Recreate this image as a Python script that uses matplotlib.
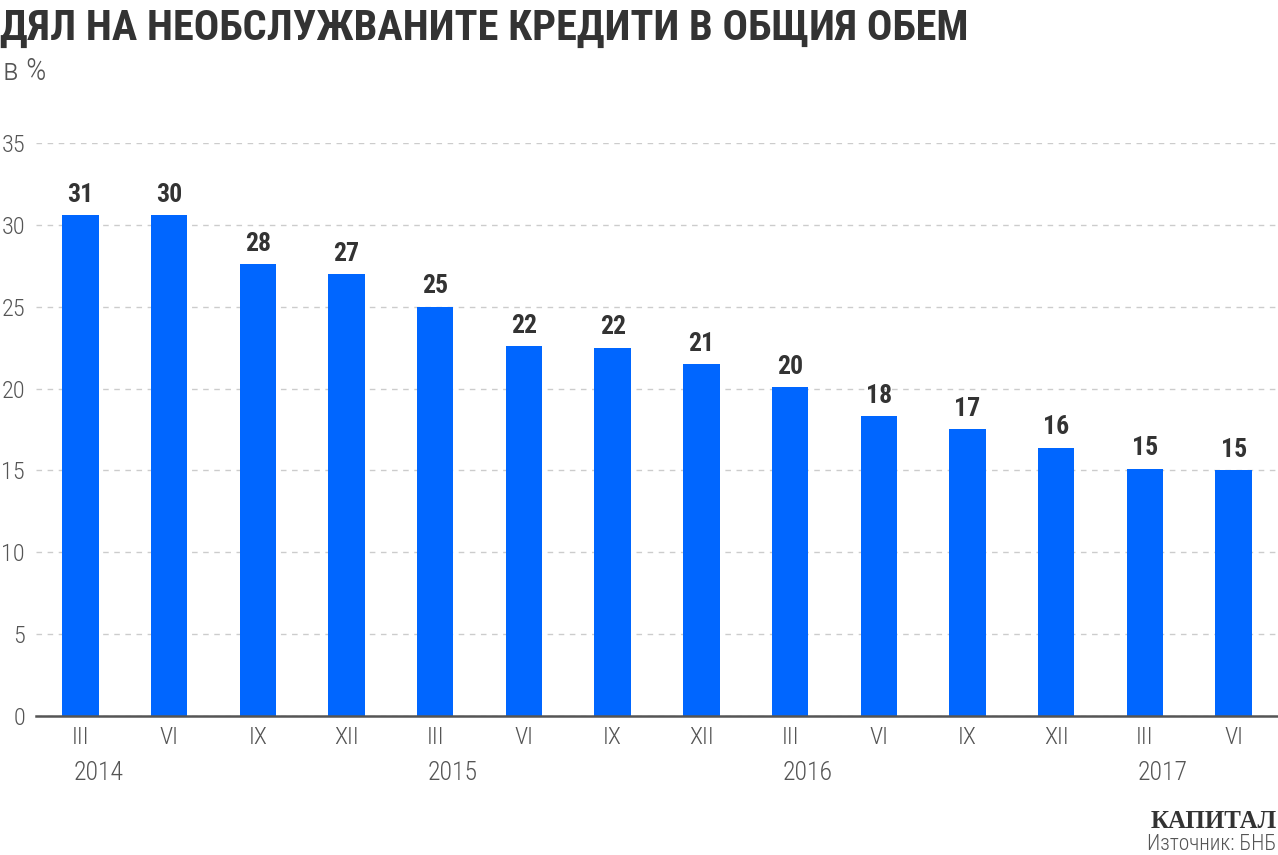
import matplotlib
matplotlib.use("Agg")
import matplotlib.pyplot as plt
from matplotlib import font_manager
from matplotlib.font_manager import FontProperties
import os

months = ["III", "VI", "IX", "XII", "III", "VI", "IX", "XII", "III", "VI", "IX", "XII", "III", "VI"]
years = ["2014", "2015", "2016", "2017"]
year_positions = [0, 4, 8, 12]
values = [30.6, 30.6, 27.6, 27.0, 25.0, 22.6, 22.5, 21.5, 20.1, 18.3, 17.5, 16.4, 15.1, 15.0]
value_labels = ["31", "30", "28", "27", "25", "22", "22", "21", "20", "18", "17", "16", "15", "15"]

files = [f.fname for f in font_manager.fontManager.ttflist]
def find(cands):
    for c in cands:
        for f in files:
            if os.path.basename(f).lower() == c.lower():
                return f
    return None

reg_file = find(["RobotoCondensed-Light.ttf", "RobotoCondensed-Regular.ttf",
                 "OpenSans_Condensed-Light.ttf", "OpenSans-CondLight.ttf",
                 "OpenSans_Condensed-Regular.ttf", "LiberationSansNarrow-Regular.ttf",
                 "DejaVuSansCondensed.ttf"])
bold_file = find(["RobotoCondensed-Bold.ttf", "OpenSans_Condensed-Bold.ttf",
                  "OpenSans-CondBold.ttf", "LiberationSansNarrow-Bold.ttf",
                  "DejaVuSansCondensed-Bold.ttf"])

def fp(size, bold=False):
    f = bold_file if bold else reg_file
    if f:
        return FontProperties(fname=f, size=size)
    return FontProperties(family="DejaVu Sans", size=size, weight="bold" if bold else "normal",
                          stretch="condensed")

fig = plt.figure(figsize=(12.78, 8.55), dpi=100)
ax = fig.add_axes([36/1278, (855-716)/855, 1-36/1278, (716-143)/855])

x = list(range(len(values)))
ax.bar(x, values, width=0.41, color="#0066ff", zorder=3)
ax.set_xlim(-0.5, 13.5)
ax.set_ylim(0, 35)
ax.set_yticks(range(0, 36, 5))
ax.yaxis.grid(True, linestyle=(0, (4, 4)), color="#cccccc", linewidth=1, zorder=0)
for s in ["top", "right", "left"]:
    ax.spines[s].set_visible(False)
ax.spines["bottom"].set_color("#555555")
ax.spines["bottom"].set_linewidth(1.8)
ax.spines["bottom"].set_zorder(4)
ax.tick_params(axis="both", length=0, labelcolor="#555555")
ax.tick_params(axis="y", pad=8)
ax.tick_params(axis="x", pad=7)
ax.set_xticks(x)
ax.set_xticklabels(months)
for lab in ax.get_xticklabels():
    lab.set_fontproperties(fp(17.5))
for lab in ax.get_yticklabels():
    lab.set_fontproperties(fp(17.5))

for xi, v, t in zip(x, values, value_labels):
    ax.annotate(t, (xi, v), xytext=(0, 6), textcoords="offset points",
                ha="center", va="bottom", color="#333333", fontproperties=fp(18.5, True))

for pos, yr in zip(year_positions, years):
    ax.annotate(yr, (pos - 0.08, 0), xytext=(0, -41), textcoords="offset points",
                ha="left", va="center", color="#555555", fontproperties=fp(18.5))

fig.text(0.0, 1 - 40/855, "ДЯЛ НА НЕОБСЛУЖВАНИТЕ КРЕДИТИ В ОБЩИЯ ОБЕМ",
         color="#333333", ha="left", va="baseline", fontproperties=fp(30.5, True))
fig.text(0.002, 1 - 80/855, "в %", color="#555555", ha="left", va="baseline",
         fontproperties=fp(23))
fig.text(1 - 1/1278, 1 - 828/855, "КАПИТАЛ", fontsize=18, fontweight="bold",
         color="#333333", fontfamily="Liberation Serif", ha="right", va="baseline")
fig.text(1 - 2/1278, 1 - 850/855, "Източник: БНБ", color="#555555",
         ha="right", va="baseline", fontproperties=fp(15.5))

fig.savefig("out.png", dpi=100)
